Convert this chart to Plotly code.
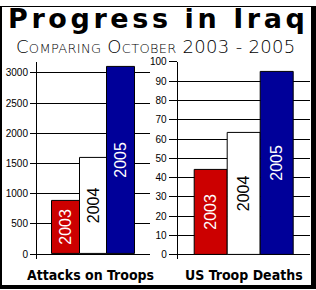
import plotly.graph_objects as go

years = ["2003", "2004", "2005"]
attacks = [880, 1600, 3100]
deaths = [44, 63, 95]
bar_colors = ["#CC0000", "#FFFFFF", "#000099"]
label_colors = ["#FFFFFF", "#000000", "#FFFFFF"]
attack_ticks = [0, 500, 1000, 1500, 2000, 2500, 3000]
death_ticks = [0, 10, 20, 30, 40, 50, 60, 70, 80, 90, 100]
title = "Progress in Iraq"
subtitle = "Comparing October 2003 - 2005"
left_title = "Attacks on Troops"
right_title = "US Troop Deaths"

W, H = 316, 290


def px(x):
    return x / W


def py(y):
    return 1 - y / H


xs = list(range(len(years)))

fig = go.Figure()
for vals, xa, ya in [(attacks, "x", "y"), (deaths, "x2", "y2")]:
    fig.add_trace(go.Bar(
        x=xs, y=vals, text=years, textposition="inside", textangle=-90,
        insidetextanchor="middle", constraintext="none",
        textfont=dict(family="Liberation Sans, Arial", size=16, color=label_colors),
        marker=dict(color=bar_colors, line=dict(color="black", width=1)),
        width=1, xaxis=xa, yaxis=ya, hoverinfo="skip", showlegend=False,
    ))

common_x = dict(showgrid=False, showticklabels=False, zeroline=False,
                showline=False, ticks="", fixedrange=True)
common_y = dict(showgrid=True, gridcolor="black", gridwidth=1, showline=True,
                linecolor="black", linewidth=1, ticks="outside", tickcolor="black",
                zeroline=False, fixedrange=True,
                tickfont=dict(family="Liberation Sans, Arial", size=10, color="black"))

fig.update_layout(
    width=W, height=H, margin=dict(l=0, r=0, t=0, b=0),
    paper_bgcolor="white", plot_bgcolor="rgba(0,0,0,0)",
    bargap=0,
    xaxis=dict(domain=[px(37), px(150)], range=[-1.04, 3.04], anchor="y", **common_x),
    yaxis=dict(domain=[py(259.3), py(57.3)], range=[-80, 3180], tickvals=attack_ticks,
               ticklen=6, anchor="x", **common_y),
    xaxis2=dict(domain=[px(177.7), px(310)], range=[-1, 3], anchor="y2", **common_x),
    yaxis2=dict(domain=[py(259.3), py(57.3)], range=[-2.2, 100], tickvals=death_ticks,
                ticklen=8, anchor="x2", **common_y),
    shapes=[
        dict(type="rect", xref="paper", yref="paper", x0=px(0), x1=px(2), y0=py(290), y1=py(0),
             fillcolor="black", line=dict(width=0)),
        dict(type="rect", xref="paper", yref="paper", x0=px(311), x1=px(316), y0=py(290), y1=py(0),
             fillcolor="black", line=dict(width=0)),
        dict(type="rect", xref="paper", yref="paper", x0=px(0), x1=px(316), y0=py(290), y1=py(286),
             fillcolor="black", line=dict(width=0)),
        dict(type="rect", xref="paper", yref="paper", x0=px(0), x1=px(316), y0=py(1), y1=py(0),
             fillcolor="black", line=dict(width=0)),
    ],
    annotations=[
        dict(text='<span style="letter-spacing:3.6px">' + title + "</span>",
             x=px(158.5), y=py(13), xref="paper", yref="paper",
             xanchor="center", yanchor="middle", showarrow=False,
             font=dict(family="DejaVu Sans", size=27, color="black", weight=900)),
        dict(text='<span style="letter-spacing:0.3px">' + subtitle + "</span>",
             x=px(155.5), y=py(41), xref="paper", yref="paper",
             xanchor="center", yanchor="middle", showarrow=False,
             font=dict(family="DejaVu Sans ExtraLight, DejaVu Sans", size=18, color="black",
                       weight=200, variant="small-caps")),
        dict(text=left_title, x=px(90.5), y=py(276), xref="paper", yref="paper",
             xanchor="center", yanchor="middle", showarrow=False,
             font=dict(family="DejaVu Sans Condensed", size=14,
                       color="black", weight="bold")),
        dict(text=right_title, x=px(243.5), y=py(276), xref="paper", yref="paper",
             xanchor="center", yanchor="middle", showarrow=False,
             font=dict(family="DejaVu Sans Condensed", size=14,
                       color="black", weight="bold")),
    ],
)

fig.write_html("out.html")
